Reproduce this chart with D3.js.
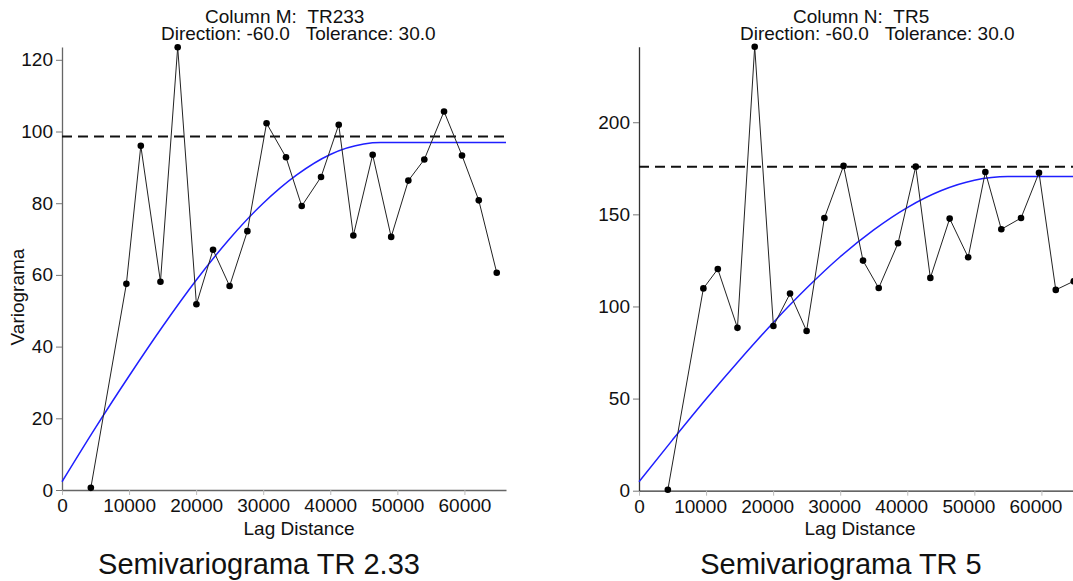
<!DOCTYPE html>
<html>
<head>
<meta charset="utf-8">
<script src="https://cdn.jsdelivr.net/npm/d3@7"></script>
<style>
  body { margin: 0; background: #fff; }
  text { font-family: "Liberation Sans", Arial, sans-serif; fill: #111; }
</style>
</head>
<body>
<div id="chart"></div>
<script>
// lag distances (shared by both directional variograms)
const lags = [4300, 9600, 11750, 14680, 17250, 20040, 22520, 24990, 27640, 30500, 33400, 35740,
              38620, 41260, 43440, 46320, 49080, 51640, 54020, 56960, 59640, 62140, 64820];

// experimental semivariogram values
const gammaTR233 = [0.6, 57.5, 96.0, 58.1, 123.5, 51.8, 67.0, 56.9, 72.2, 102.3, 92.8, 79.2,
                    87.3, 101.9, 71.0, 93.5, 70.6, 86.3, 92.2, 105.6, 93.3, 80.8, 60.6];
const gammaTR5 = [0.5, 109.8, 120.3, 88.4, 241, 89.4, 107.0, 86.7, 148.0, 176.3, 124.9, 110.0,
                  134.3, 175.9, 115.5, 147.7, 126.7, 173.0, 141.9, 148.0, 172.6, 109.0, 113.7];

// fitted model curves
const modelLagTR233 = [0, 5000, 10000, 15000, 20000, 25000, 30000, 35000, 40000, 45000, 47500, 66200];
const modelTR233 = [2.3, 17.4, 31.8, 45.6, 58.5, 70.1, 80.0, 87.9, 93.6, 96.5, 96.9, 96.9];
const modelLagTR5 = [0, 5000, 10000, 15000, 20000, 25000, 30000, 35000, 40000, 45000, 50000, 55000, 67000];
const modelTR5 = [4.9, 27.6, 49.8, 71.0, 91.2, 110.0, 127.0, 141.6, 153.7, 162.8, 168.5, 170.5, 170.5];

// sample variance (sill line)
const sillTR233 = 98.6;
const sillTR5 = 175.9;

const yTicksTR233 = [0, 20, 40, 60, 80, 100, 120];
const yTicksTR5 = [0, 50, 100, 150, 200];
const xTicks = [0, 10000, 20000, 30000, 40000, 50000, 60000];

const svg = d3.select("#chart").append("svg")
    .attr("width", 1073)
    .attr("height", 581);

svg.append("rect").attr("width", 1073).attr("height", 581).attr("fill", "#fff");

const nb = s => s.replace(/ /g, "\u00A0");

const panels = [
  {
    left: 62, right: 506, top: 46.9, bottom: 490,
    yMax: 123.6, xMax: 66200,
    gamma: gammaTR233, modelLag: modelLagTR233, model: modelTR233, sill: sillTR233,
    yTicks: yTicksTR233, axisColor: "#666", xLabelDx: 0,
    title1: "Column M:  TR233", t1x: 205,
    title2: "Direction: -60.0   Tolerance: 30.0", t2x: 161,
    xLabelX: 299, caption: "Semivariograma TR 2.33", capX: 259, yLabel: true
  },
  {
    left: 639, right: 1083, top: 46.7, bottom: 490.7,
    yMax: 241, xMax: 66200,
    gamma: gammaTR5, modelLag: modelLagTR5, model: modelTR5, sill: sillTR5,
    yTicks: yTicksTR5, axisColor: "#333", xLabelDx: -6,
    title1: "Column N:  TR5", t1x: 793,
    title2: "Direction: -60.0   Tolerance: 30.0", t2x: 740,
    xLabelX: 860, caption: "Semivariograma TR 5", capX: 841, yLabel: false
  }
];

panels.forEach(p => {
  const x = d3.scaleLinear().domain([0, p.xMax]).range([p.left, p.right]);
  const y = d3.scaleLinear().domain([0, p.yMax]).range([p.bottom, p.top]);
  const g = svg.append("g");

  // x axis
  const gx = g.append("g")
      .attr("transform", `translate(0,${p.bottom})`)
      .call(d3.axisBottom(x).tickValues(xTicks).tickFormat(d3.format("d"))
              .tickSize(5).tickPadding(4).tickSizeOuter(0));
  gx.select(".domain").attr("stroke", p.axisColor).attr("stroke-width", 1.3);
  gx.selectAll(".tick line").attr("stroke", "#bbb");
  gx.selectAll(".tick text").attr("font-size", 19).attr("fill", "#111")
      .attr("font-family", "Liberation Sans, Arial, sans-serif")
      .attr("dx", d => d === 0 ? 0 : p.xLabelDx);

  // y axis
  const gy = g.append("g")
      .attr("transform", `translate(${p.left},0)`)
      .call(d3.axisLeft(y).tickValues(p.yTicks).tickSize(6).tickPadding(3).tickSizeOuter(0));
  gy.select(".domain").attr("stroke", p.axisColor).attr("stroke-width", 1.3);
  gy.selectAll(".tick line").attr("stroke", "#777");
  gy.selectAll(".tick text").attr("font-size", 19).attr("fill", "#111")
      .attr("font-family", "Liberation Sans, Arial, sans-serif");

  // sill
  g.append("line")
      .attr("x1", p.left).attr("x2", p.right)
      .attr("y1", y(p.sill)).attr("y2", y(p.sill))
      .attr("stroke", "#111").attr("stroke-width", 2)
      .attr("stroke-dasharray", "10,6");

  // model curve
  const modelData = p.modelLag.map((h, i) => ({ h: h, v: p.model[i] }));
  g.append("path")
      .datum(modelData)
      .attr("fill", "none")
      .attr("stroke", "#1f1fff")
      .attr("stroke-width", 1.5)
      .attr("d", d3.line().x(d => x(d.h)).y(d => y(d.v)).curve(d3.curveMonotoneX));

  // experimental points
  const pts = lags.map((h, i) => ({ h: h, v: p.gamma[i] }));
  g.append("path")
      .datum(pts)
      .attr("fill", "none")
      .attr("stroke", "#222")
      .attr("stroke-width", 1)
      .attr("d", d3.line().x(d => x(d.h)).y(d => y(d.v)));
  g.selectAll("circle.pt")
    .data(pts)
    .join("circle")
      .attr("class", "pt")
      .attr("cx", d => x(d.h))
      .attr("cy", d => y(d.v))
      .attr("r", 3.3)
      .attr("fill", "#000");

  // titles
  g.append("text").attr("x", p.t1x).attr("y", 22.5).attr("font-size", 19)
      .text(nb(p.title1));
  g.append("text").attr("x", p.t2x).attr("y", 40).attr("font-size", 19)
      .text(nb(p.title2));

  // axis label
  g.append("text").attr("x", p.xLabelX).attr("y", 535).attr("font-size", 19)
      .attr("text-anchor", "middle").text("Lag Distance");

  if (p.yLabel) {
    g.append("text")
        .attr("transform", "translate(24,297) rotate(-90)")
        .attr("font-size", 19).attr("text-anchor", "middle").text("Variograma");
  }

  // caption
  g.append("text").attr("x", p.capX).attr("y", 574).attr("font-size", 29)
      .attr("text-anchor", "middle").attr("fill", "#000").text(p.caption);
});
</script>
</body>
</html>
